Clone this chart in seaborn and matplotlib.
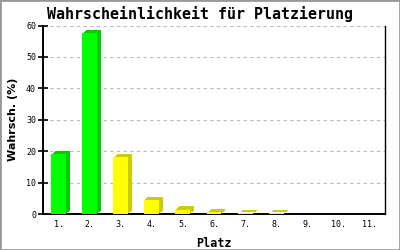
import matplotlib
matplotlib.use("Agg")
import matplotlib.pyplot as plt
import matplotlib.transforms as mtransforms
from matplotlib.patches import Rectangle
import seaborn as sns

# ---- data ----
platz = ["1.", "2.", "3.", "4.", "5.", "6.", "7.", "8.", "9.", "10.", "11."]
wahrsch = [19.0, 57.5, 18.0, 4.5, 1.4, 0.5, 0.2, 0.2, 0.0, 0.0, 0.0]
front_colors = ["#00ff00", "#00ff00"] + ["#ffff00"] * 9
side_colors = ["#00cc00", "#00cc00"] + ["#cccc00"] * 9
y_ticks = [0, 10, 20, 30, 40, 50, 60]

sns.set_style("white")
plt.rcParams["font.family"] = ["DejaVu Sans Mono"]
plt.rcParams["text.color"] = "black"
plt.rcParams["axes.labelcolor"] = "black"
plt.rcParams["xtick.color"] = "black"
plt.rcParams["ytick.color"] = "black"

fig = plt.figure(figsize=(4, 2.5), dpi=100)
ax = fig.add_axes([43 / 400, 36 / 250, 342 / 400, 188.5 / 250])

sns.barplot(x=platz, y=wahrsch, hue=platz, palette=front_colors, legend=False,
            width=0.48, saturation=1, linewidth=0, ax=ax, zorder=3)

# 3D side/top faces: offset copies of each bar in a darker shade
front = sorted([p for p in ax.patches if isinstance(p, Rectangle)],
               key=lambda p: p.get_x())
for p in front:
    idx = int(round(p.get_x() + p.get_width() / 2))
    col = side_colors[idx]
    for k in range(1, 5):
        off = mtransforms.ScaledTranslation(k / 100, k * 0.8 / 100, fig.dpi_scale_trans)
        r = Rectangle(p.get_xy(), p.get_width(), p.get_height(),
                      transform=ax.transData + off,
                      facecolor=col, edgecolor="none", linewidth=0, zorder=2)
        ax.add_patch(r)

ax.set_xlim(-0.5, 10.5)
ax.set_ylim(0, 60)
ax.set_yticks(y_ticks)
ax.yaxis.grid(True, color="#bbbbbb", linestyle=(0, (3, 3)), linewidth=0.8, zorder=0)
ax.xaxis.grid(False)

for s in ["left", "bottom", "right"]:
    ax.spines[s].set_visible(True)
    ax.spines[s].set_color("black")
ax.spines["left"].set_linewidth(1.4)
ax.spines["bottom"].set_linewidth(1.4)
ax.spines["right"].set_linewidth(1.0)
ax.spines["top"].set_visible(False)

ax.tick_params(axis="y", direction="inout", length=7, width=1.2, color="black",
               labelsize=6, pad=1.5, left=True, labelcolor="black")
ax.tick_params(axis="x", length=0, labelsize=6, pad=4, labelcolor="black")

ax.set_xlabel("Platz", fontsize=8.5, fontweight="bold", labelpad=6, color="black")
ax.set_ylabel("Wahrsch. (%)", fontsize=8, fontweight="bold",
              family=["DejaVu Sans"], labelpad=6, color="black")

fig.text(0.5, 1 - 14 / 250, "Wahrscheinlichkeit für Platzierung",
         ha="center", va="center", fontsize=10.8, fontweight="bold", color="black")

fig.patches.append(Rectangle((0, 0), 1, 1, transform=fig.transFigure,
                             fill=False, edgecolor="#999999", linewidth=2))

fig.savefig("out.png", dpi=100)
